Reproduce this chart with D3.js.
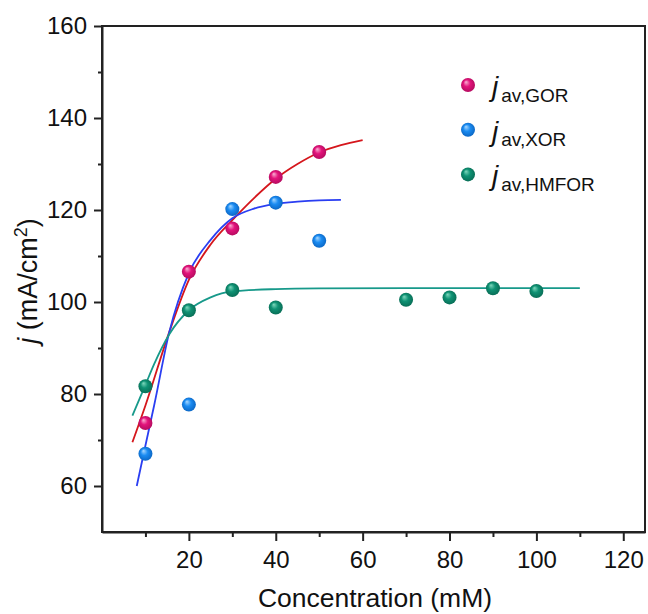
<!DOCTYPE html>
<html>
<head>
<meta charset="utf-8">
<script src="https://cdn.jsdelivr.net/npm/d3@7"></script>
<style>
    body { margin: 0; background: #fff; }
    svg { display: block; font-family: "Liberation Sans", Arial, sans-serif; }
</style>
</head>
<body>
<svg id="chart"></svg>
<script>
// measured points (concentration in mM, current density in mA/cm2)
const gorConc = [10, 20, 30, 40, 50]
const gorJ = [73.7, 106.6, 116.0, 127.2, 132.6]

const xorConc = [10, 20, 30, 40, 50]
const xorJ = [67.0, 77.7, 120.2, 121.6, 113.3]

const hmfConc = [10, 20, 30, 40, 70, 80, 90, 100]
const hmfJ = [81.7, 98.2, 102.6, 98.8, 100.5, 101.0, 103.0, 102.4]

// fitted curves at a handful of concentrations
const gorFitConc = [7, 10, 15.5, 20, 25, 30, 35, 40, 45, 50, 55, 60]
const gorFitJ = [69.5, 77.5, 93.5, 104.8, 112.5, 117.8, 122.6, 126.8, 130, 132.5, 134.1, 135.2]

const xorFitConc = [8, 10, 12, 15.5, 20, 25, 30, 35, 40, 45, 50, 55]
const xorFitJ = [60, 68.8, 77.5, 93.5, 106.3, 113.5, 118.2, 120.3, 121.3, 121.8, 122.1, 122.2]

const hmfFitConc = [7, 10, 12, 15.5, 20, 25, 30, 40, 50, 70, 110]
const hmfFitJ = [75.3, 82, 86.5, 93, 98.2, 101, 102.3, 102.8, 102.95, 103, 103]

const xTicks = [20, 40, 60, 80, 100, 120]
const xMinor = [10, 30, 50, 70, 90, 110]
const yTicks = [60, 80, 100, 120, 140, 160]
const yMinor = [70, 90, 110, 130, 150]

const legendSubs = ["av,GOR", "av,XOR", "av,HMFOR"]

const W = 648, H = 614
const plot = {left: 102, top: 26, right: 645, bottom: 532}

const svg = d3.select("#chart").attr("width", W).attr("height", H)

const x = d3.scaleLinear().domain([0, 125]).range([plot.left, plot.right])
const y = d3.scaleLinear().domain([50, 160]).range([plot.bottom, plot.top])

// series styling: dot colours (highlight, base, edge) and fit line colour
const series = [
    {key: "gor", conc: gorConc, j: gorJ, fc: gorFitConc, fj: gorFitJ,
        hi: "#f9b3d4", base: "#e3147c", dark: "#b00a5c", line: "#d5161c"},
    {key: "xor", conc: xorConc, j: xorJ, fc: xorFitConc, fj: xorFitJ,
        hi: "#a9d8ff", base: "#1b8cf2", dark: "#0a63c0", line: "#2a3ef2"},
    {key: "hmf", conc: hmfConc, j: hmfJ, fc: hmfFitConc, fj: hmfFitJ,
        hi: "#7fd8bd", base: "#0f9274", dark: "#086a53", line: "#17998a"}
]

// radial gradients give the little shaded balls
const defs = svg.append("defs")
series.forEach(s => {
    let g = defs.append("radialGradient")
        .attr("id", "ball-" + s.key)
        .attr("cx", "50%").attr("cy", "50%").attr("r", "55%")
        .attr("fx", "35%").attr("fy", "28%")
    g.append("stop").attr("offset", "0%").attr("stop-color", s.hi)
    g.append("stop").attr("offset", "45%").attr("stop-color", s.base)
    g.append("stop").attr("offset", "100%").attr("stop-color", s.dark)
})

// frame
svg.append("rect")
    .attr("x", plot.left).attr("y", plot.top)
    .attr("width", plot.right - plot.left).attr("height", plot.bottom - plot.top)
    .attr("fill", "none").attr("stroke", "#222").attr("stroke-width", 2)

// bottom axis, major then minor ticks
const xAxis = svg.append("g")
    .attr("transform", `translate(0,${plot.bottom})`)
    .call(d3.axisBottom(x).tickValues(xTicks).tickSize(9).tickPadding(10).tickSizeOuter(0))
xAxis.append("g")
    .call(d3.axisBottom(x).tickValues(xMinor).tickSize(5).tickFormat("").tickSizeOuter(0))
    .select(".domain").remove()

const yAxis = svg.append("g")
    .attr("transform", `translate(${plot.left},0)`)
    .call(d3.axisLeft(y).tickValues(yTicks).tickSize(8).tickPadding(7).tickSizeOuter(0))
yAxis.append("g")
    .call(d3.axisLeft(y).tickValues(yMinor).tickSize(4).tickFormat("").tickSizeOuter(0))
    .select(".domain").remove()

svg.selectAll(".domain").attr("stroke", "#222").attr("stroke-width", 2)
svg.selectAll(".tick line").attr("stroke", "#222").attr("stroke-width", 2)
svg.selectAll(".tick text")
    .attr("fill", "#111")
    .style("font-size", "24px")
    .style("font-family", "'Liberation Sans', Arial, sans-serif")

// axis titles
svg.append("text")
    .attr("x", 375).attr("y", 607)
    .attr("text-anchor", "middle")
    .attr("font-size", 26.5).attr("fill", "#111")
    .text("Concentration (mM)")

let yTitle = svg.append("text")
    .attr("transform", "translate(37,281) rotate(-90)")
    .attr("text-anchor", "middle")
    .attr("font-size", 27).attr("fill", "#111")
yTitle.append("tspan").attr("font-style", "italic").text("j")
yTitle.append("tspan").text(" (mA/cm")
yTitle.append("tspan").attr("font-size", 18).attr("dy", -10).text("2")
yTitle.append("tspan").attr("dy", 10).text(")")

// fit lines
const line = d3.line()
    .x(d => x(d[0]))
    .y(d => y(d[1]))
    .curve(d3.curveMonotoneX)

series.forEach(s => {
    svg.append("path")
        .datum(s.fc.map((c, i) => [c, s.fj[i]]))
        .attr("d", line)
        .attr("fill", "none")
        .attr("stroke", s.line)
        .attr("stroke-width", 1.8)
})

// data points on top
series.forEach(s => {
    svg.append("g").selectAll("circle")
        .data(s.conc.map((c, i) => [c, s.j[i]]))
        .join("circle")
            .attr("cx", d => x(d[0]))
            .attr("cy", d => y(d[1]))
            .attr("r", 7)
            .attr("fill", `url(#ball-${s.key})`)
})

// legend
const legend = svg.append("g")
series.forEach((s, i) => {
    let row = legend.append("g").attr("transform", `translate(0,${85 + i * 44.7})`)
    row.append("circle")
        .attr("cx", 468).attr("cy", 0).attr("r", 7)
        .attr("fill", `url(#ball-${s.key})`)
    let t = row.append("text")
        .attr("x", 492).attr("y", 11)
        .attr("fill", "#111")
    t.append("tspan").attr("font-style", "italic").attr("font-size", 28).text("j")
    t.append("tspan").attr("font-size", 19).attr("dx", 3).attr("dy", 5.5).text(legendSubs[i])
})
</script>
</body>
</html>
